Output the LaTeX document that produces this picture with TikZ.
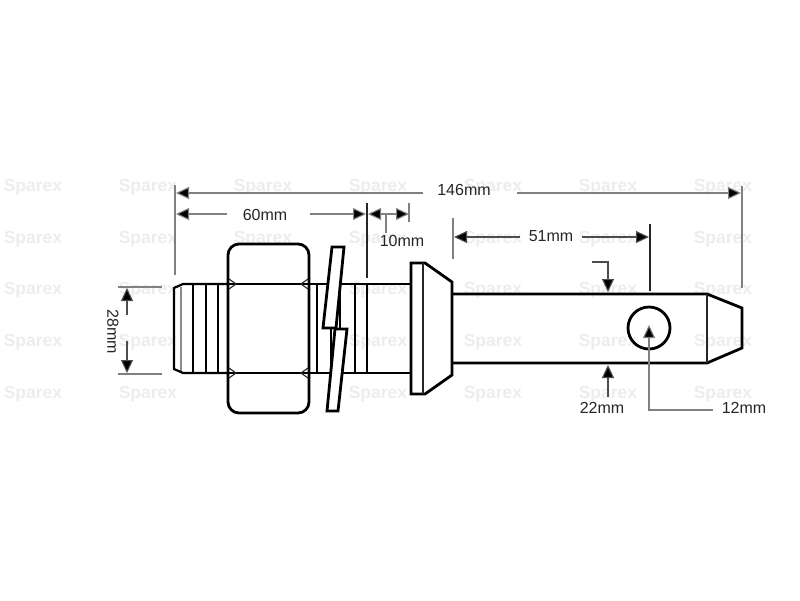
\documentclass[tikz,border=0pt]{standalone}
\usepackage{fontspec}
\setmainfont{Liberation Sans}
\usetikzlibrary{arrows.meta}
\tikzset{
  heavy/.style={draw=black,line width=2.8pt,line join=miter},
  medium/.style={draw=black,line width=1.5pt},
  fine/.style={draw=black!85,line width=1.1pt},
  dimline/.style={draw=black!50,line width=1.1pt},
  dimtip/.style={dimline,-{Triangle[length=13pt,width=12pt,fill=black]}},
  label/.style={font=\fontsize{16}{18}\selectfont,text=black!85,inner sep=0pt},
  wmark/.style={font=\bfseries\fontsize{17.5}{18}\selectfont,text=black!7,inner sep=0pt}
}
\begin{document}
\begin{tikzpicture}[x=1pt,y=-1pt]
\useasboundingbox[fill=white] (0,0) rectangle (800,600);
% watermarks
\foreach \wx in {33,148,263,378,493,608,723}
  \foreach \wy in {187,239,290,342,394}
    \node[wmark] (w\wx-\wy) at (\wx,\wy) {Sparex};
% threaded end
\foreach \tx in {193,206,218} \draw[medium] (\tx,284) -- (\tx,373);
\draw[draw=black!45,line width=1.2pt] (181,287) -- (181,371);
\foreach \tx in {317,355,367} \draw[medium] (\tx,284) -- (\tx,373);
\draw[heavy,line width=2.2pt] (228,284) -- (183,284) -- (174,288) -- (174,369) -- (183,373) -- (228,373);
\draw[heavy,line width=2.2pt] (309,284) -- (411,284);
\draw[heavy,line width=2.2pt] (309,373) -- (411,373);
\draw[medium] (331,328) -- (331,372);
\draw[medium] (340,290) -- (340,330);
% nut
\draw[heavy,fill=white,rounded corners=11pt] (228,244) rectangle (309,413);
\draw[medium] (229,284) -- (308,284);
\draw[medium] (229,373) -- (308,373);
\draw[fine] (229,279) -- (236,284) -- (229,289);
\draw[fine] (308,279) -- (301,284) -- (308,289);
\draw[fine] (229,368) -- (236,373) -- (229,378);
\draw[fine] (308,368) -- (301,373) -- (308,378);
% washer
\draw[heavy,fill=white] (332,247) -- (344,247) -- (336,328) -- (323,328) -- cycle;
\draw[heavy,fill=white] (335,329) -- (347,329) -- (338,411) -- (327,411) -- cycle;
% collar
\draw[heavy,fill=white] (411,263) -- (425,263) -- (452,282) -- (452,375) -- (425,394) -- (411,394) -- cycle;
\draw[fine] (423,263) -- (423,394);
% pin
\draw[heavy] (452,294) -- (707,294) -- (742,308) -- (742,348) -- (707,363) -- (452,363);
\draw[fine] (707,294) -- (707,363);
\draw[heavy] (649,328) circle[radius=21];
% labels
\node[label] (l146) at (464,190) {146mm};
\node[label] (l60) at (265,215) {60mm};
\node[label] (l10) at (402,241) {10mm};
\node[label] (l51) at (551,236) {51mm};
\node[label,rotate=-90] (l28) at (113,332) {28mm};
\node[label] (l22) at (602,408) {22mm};
\node[label] (l12) at (744,408) {12mm};
% extension lines
\draw[dimline] (175,185) -- (175,275);
\draw[dimline] (742,186) -- (742,288);
\draw[fine] (367,203) -- (367,278);
\draw[dimline] (409,203) -- (409,222);
\draw[dimline] (453,218) -- (453,259);
\draw[fine] (650,224) -- (650,291);
\draw[dimline] (118,287) -- (162,287);
\draw[dimline] (118,374) -- (162,374);
% 146
\draw[dimtip] (423,193) -- (176,193);
\draw[dimtip] (517,193) -- (741,193);
% 60
\draw[dimtip] (227,214) -- (176,214);
\draw[dimtip] (310,214) -- (366,214);
% 10
\draw[dimtip] (396,214) -- (368,214);
\draw[dimtip] (381,214) -- (409,214);
\draw[dimline] (386,214) -- (386,233);
% 51
\draw[dimtip,draw=black!70] (520,237) -- (454,237);
\draw[dimtip,draw=black!70] (582,237) -- (649,237);
% 28
\draw[dimtip,draw=black!70] (127,315) -- (127,288);
\draw[dimtip,draw=black!70] (127,341) -- (127,373);
% 22
\draw[dimtip,draw=black!70] (592,262) -- (608,262) -- (608,292);
\draw[dimtip,draw=black!70] (608,397) -- (608,365);
% 12
\draw[dimtip] (713,410) -- (649,410) -- (649,325);
\end{tikzpicture}
\end{document}
